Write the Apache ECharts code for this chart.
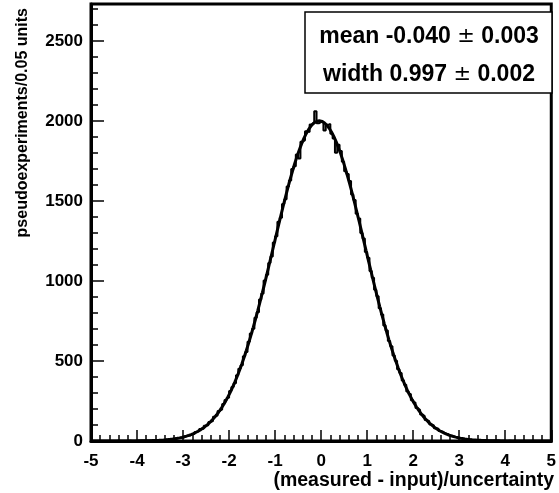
<!DOCTYPE html>
<html>
<head>
<meta charset="utf-8">
<script src="https://cdn.jsdelivr.net/npm/echarts@6/dist/echarts.min.js"></script>
<style>
html,body{margin:0;padding:0;background:#fff;}
#chart{width:559px;height:493px;}
</style>
</head>
<body>
<div id="chart"></div>
<script>
// Binning of the histogram (x = (measured - input)/uncertainty)
const xMin = -5;
const xMax = 5;
const binWidth = 0.05;
const yMax = 2730;

// Histogram bin contents (200 bins of 0.05)
const counts = [
  0,0,0,0,0,0,0,0,0,0, 0,1,0,0,0,0,1,0,0,1,
  0,1,2,2,1,3,2,4,3,5, 6,5,9,8,11,14,13,18,21,20,
  28,33,34,44,43,56,62,75,77,96, 98,119,125,152,160,188,197,231,256,270,
  312,338,361,410,452,474,530,556,620,672, 702,770,805,884,921,1002,1038,1112,1152,1240,
  1279,1370,1395,1480,1510,1590,1628,1700,1716,1790, 1765,1870,1880,1935,1930,1978,1990,2060,1985,1992,
  1995,1940,1975,1980,1920,1890,1800,1850,1812,1745, 1685,1668,1625,1540,1505,1420,1390,1300,1265,1180,
  1145,1062,1020,945,905,830,790,722,690,624, 592,534,502,448,425,378,352,310,294,255,
  240,206,194,166,156,131,124,103,97,80, 76,62,58,47,44,36,33,27,25,19,
  18,14,13,10,10,7,7,5,5,4, 3,3,2,2,1,1,1,0,1,0,
  0,1,0,0,0,0,0,0,0,0, 0,0,0,0,0,0,0,0,0,0
];

// Fitted Gaussian curve, read at the bin centres
const fitValues = [
  0,0,0,0,0,0,0,0,0.1,0.1, 0.1,0.1,0.2,0.2,0.2,0.3,0.4,0.5,0.6,0.7,
  0.8,1.0,1.2,1.5,1.8,2.2,2.6,3.1,3.7,4.4, 5.3,6.3,7.4,8.8,10.3,12.1,14.3,16.7,19.5,22.6,
  26.3,30.4,35.1,40.4,46.4,53.2,60.8,69.4,78.9,89.5, 101.3,114.3,128.7,144.6,162.0,181.1,201.9,224.5,249.1,275.5,
  304.2,334.9,367.7,402.7,440.0,479.5,521.2,565.2,611.4,659.7, 709.9,762.2,816.1,871.7,928.6,986.9,1046.2,1106.2,1166.8,1227.7,
  1288.4,1348.7,1408.2,1466.8,1524.1,1579.5,1632.8,1683.7,1731.7,1776.8, 1818.4,1856.3,1890.3,1919.9,1945.2,1965.9,1981.8,1992.7,1998.8,2000.0,
  1995.8,1986.7,1972.8,1954.0,1930.6,1902.6,1870.4,1834.0,1793.9,1750.2, 1703.3,1653.5,1601.1,1546.5,1490.0,1432.0,1372.7,1312.6,1252.0,1191.1,
  1130.4,1070.1,1010.5,951.8,894.2,838.1,783.5,730.6,679.6,630.5, 583.5,538.6,495.9,455.5,417.3,381.4,347.6,316.1,286.7,259.4,
  234.1,210.7,189.2,169.5,151.4,134.9,120.0,106.4,94.1,83.0, 73.1,64.1,56.2,49.1,42.7,37.1,32.2,27.8,24.0,20.7,
  17.7,15.2,13.0,11.0,9.4,7.9,6.7,5.7,4.8,4.0, 3.3,2.8,2.3,1.9,1.6,1.3,1.1,0.9,0.7,0.6,
  0.5,0.4,0.3,0.3,0.2,0.2,0.2,0.1,0.1,0.1, 0.1,0,0,0,0,0,0,0,0,0
];

// Fit-result box: [label value, uncertainty]
const statNames = ['mean -0.040', 'width 0.997'];
const statErrors = ['0.003', '0.002'];
const xTitle = '(measured - input)/uncertainty';
const yTitle = 'pseudoexperiments/0.05 units';

const FONT = "'Liberation Sans', Arial, Helvetica, sans-serif";

const histData = counts.map((v, i) => [xMin + i * binWidth, v]);
histData.push([xMax, counts[counts.length - 1]]);
const fitData = fitValues.map((v, i) => [xMin + (i + 0.5) * binWidth, v]);

const statRich = {
  b: {fontFamily: FONT, fontWeight: 'bold', fontSize: 23, color: '#000'},
  pm: {fontFamily: "'DejaVu Sans', sans-serif", fontWeight: 'normal', fontSize: 21, color: '#000'}
};
function statText(i) {
  return '{b|' + statNames[i] + ' }{pm|\u00b1}{b| ' + statErrors[i] + '}';
}

const chart = echarts.init(document.getElementById('chart'), null, {renderer: 'canvas'});
chart.setOption({
  animation: false,
  backgroundColor: '#ffffff',
  grid: {
    left: 91, top: 4, width: 465, height: 437,
    show: true, borderColor: '#000', borderWidth: 3, backgroundColor: 'transparent'
  },
  xAxis: {
    type: 'value', min: xMin, max: xMax, interval: 1,
    axisLine: {show: true, onZero: false, lineStyle: {color: '#000', width: 3}},
    axisTick: {show: true, inside: true, length: 11, lineStyle: {color: '#000', width: 1.5}},
    minorTick: {show: true, splitNumber: 5, length: 6, lineStyle: {color: '#000', width: 1.5}},
    axisLabel: {show: true, margin: 12, color: '#000', fontFamily: FONT, fontWeight: 'bold', fontSize: 17,
      formatter: v => String(v)},
    splitLine: {show: false}
  },
  yAxis: [
    {
      type: 'value', position: 'left', min: 0, max: yMax, interval: 500,
      axisLine: {show: true, onZero: false, lineStyle: {color: '#000', width: 3}},
      axisTick: {show: true, inside: true, length: 13, lineStyle: {color: '#000', width: 1.5}},
      axisLabel: {show: true, margin: 8, showMaxLabel: false, color: '#000', fontFamily: FONT, fontWeight: 'bold', fontSize: 17,
        formatter: v => String(v)},
      splitLine: {show: false}
    },
    {
      type: 'value', position: 'left', min: 0, max: yMax, interval: 100,
      axisLine: {show: false, onZero: false},
      axisTick: {show: true, inside: true, length: 7, lineStyle: {color: '#000', width: 1.5}},
      axisLabel: {show: false},
      splitLine: {show: false}
    }
  ],
  series: [
    {
      type: 'line', name: 'histogram', xAxisIndex: 0, yAxisIndex: 0,
      data: histData, step: 'end', symbol: 'none', clip: true,
      lineStyle: {color: '#000', width: 2}
    },
    {
      type: 'line', name: 'fit', xAxisIndex: 0, yAxisIndex: 0,
      data: fitData, symbol: 'none', smooth: false, clip: true,
      lineStyle: {color: '#000', width: 3}
    }
  ],
  graphic: [
    {
      type: 'rect', z: 100,
      shape: {x: 305, y: 12, width: 247, height: 81},
      style: {fill: '#fff', stroke: '#000', lineWidth: 1.5}
    },
    {
      type: 'text', z: 101, x: 429, y: 37,
      style: {text: statText(0), rich: statRich, fill: '#000', textAlign: 'center', textVerticalAlign: 'middle'}
    },
    {
      type: 'text', z: 101, x: 429, y: 75,
      style: {text: statText(1), rich: statRich, fill: '#000', textAlign: 'center', textVerticalAlign: 'middle'}
    },
    {
      type: 'text', z: 101, x: 554, y: 481,
      style: {text: xTitle, fill: '#000', font: "bold 19.5px " + FONT, textAlign: 'right', textVerticalAlign: 'middle'}
    },
    {
      type: 'text', z: 101, x: 23, y: 8, rotation: Math.PI / 2,
      style: {text: yTitle, fill: '#000', font: "bold 16px " + FONT, textAlign: 'right', textVerticalAlign: 'middle'}
    }
  ]
});
</script>
</body>
</html>
